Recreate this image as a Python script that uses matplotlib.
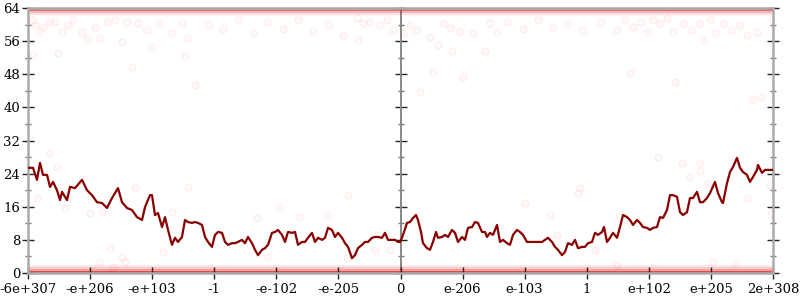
import numpy as np
import matplotlib
matplotlib.use('Agg')
import matplotlib.pyplot as plt

# smoothed line: sample index -> value
line_x = [0, 2, 5, 9, 12, 15, 19, 22, 25, 29, 32, 34, 39, 42, 47, 54, 59, 64, 69, 74,
          79, 84, 90, 94, 99, 104, 109, 114, 117, 122, 124, 127, 130, 134, 137, 140, 144, 147, 150, 154,
          157, 160, 164, 167, 170, 174, 177, 180, 184, 187, 190, 194, 197, 200, 204, 207, 210, 214, 217, 220,
          224, 227, 230, 234, 237, 240, 244, 247, 250, 254, 257, 260, 264, 267, 270, 274, 277, 280, 284, 287,
          290, 294, 297, 300, 304, 307, 310, 314, 317, 320, 324, 327, 330, 334, 337, 340, 344, 347, 350, 354,
          357, 360, 364, 367, 370, 372, 374, 376, 379, 382, 385, 388, 390, 393, 395, 399, 402, 405, 408, 410,
          414, 417, 420, 424, 427, 430, 434, 437, 440, 444, 447, 450, 454, 457, 459, 462, 465, 469, 472, 475,
          479, 482, 485, 489, 492, 495, 499, 502, 504, 507, 510, 514, 517, 520, 524, 527, 530, 534, 537, 540,
          544, 547, 550, 554, 557, 560, 564, 567, 570, 574, 576, 579, 582, 585, 589, 592, 595, 599, 602, 605,
          609, 612, 615, 619, 622, 625, 629, 632, 635, 639, 642, 645, 649, 652, 655, 659, 662, 665, 669, 672,
          675, 679, 682, 687, 690, 694, 695, 699, 702, 705, 709, 712, 715, 719, 722, 725, 729, 730, 734, 737,
          740, 745]
line_y = [25.4, 25.4, 25.4, 22.5, 26.6, 23.7, 23.7, 20.8, 22.0, 20.0, 17.6, 19.6, 17.6, 20.8, 20.5, 22.5, 20.0, 18.8, 17.1, 16.9,
          15.7, 18.1, 20.5, 17.1, 15.7, 15.2, 13.5, 12.8, 15.9, 18.8, 18.8, 14.0, 14.5, 11.1, 13.5, 10.4, 6.8, 8.5, 7.5, 8.7,
          12.8, 12.3, 12.1, 12.3, 12.1, 11.6, 8.7, 7.5, 6.3, 9.2, 9.9, 9.7, 7.5, 6.8, 7.2, 7.2, 7.5, 8.0, 7.2, 8.7,
          7.2, 5.6, 4.3, 5.6, 6.0, 6.8, 9.7, 9.9, 10.4, 9.2, 7.5, 9.9, 9.7, 9.9, 6.8, 7.5, 7.5, 8.5, 9.7, 7.5,
          8.5, 8.0, 8.5, 10.9, 10.4, 8.7, 9.7, 8.5, 7.2, 6.3, 3.6, 4.3, 6.0, 6.8, 7.5, 7.5, 8.5, 8.7, 8.7, 8.5,
          9.7, 8.0, 8.0, 8.0, 7.5, 7.5, 8.5, 9.9, 12.1, 12.3, 13.3, 14.0, 12.8, 9.9, 7.2, 6.0, 5.6, 7.5, 9.9, 8.5,
          8.7, 9.2, 8.7, 10.4, 9.7, 7.5, 8.7, 8.0, 10.9, 11.1, 12.3, 12.1, 9.9, 9.9, 8.7, 9.7, 9.2, 11.6, 7.5, 8.0,
          7.2, 6.8, 9.2, 10.4, 9.9, 9.2, 7.5, 7.5, 7.5, 7.5, 7.5, 7.5, 8.0, 8.5, 7.5, 6.3, 5.6, 4.3, 5.1, 7.2,
          6.8, 8.0, 6.0, 6.3, 6.3, 7.2, 7.5, 9.7, 9.2, 9.9, 11.1, 7.5, 8.5, 9.7, 8.5, 11.1, 14.0, 13.5, 12.8, 11.6,
          12.8, 12.1, 11.1, 10.9, 10.4, 10.9, 11.1, 13.5, 13.3, 15.2, 18.8, 18.8, 18.4, 14.7, 14.0, 14.7, 18.1, 18.1, 19.6, 17.1,
          17.1, 18.1, 19.3, 22.0, 19.3, 17.1, 16.9, 21.7, 24.4, 25.6, 27.8, 25.4, 24.4, 23.7, 22.0, 23.2, 24.9, 26.1, 24.2, 24.9,
          24.9, 24.9]

# faint scattered samples
pts_x = [4, 7, 12, 15, 21, 27, 34, 39, 45, 54, 59, 67, 72, 79, 87, 94, 99, 104, 110, 119,
         124, 132, 144, 154, 157, 160, 167, 30, 5, 180, 195, 210, 225, 240, 255, 270, 285, 300, 315,
         329, 335, 342, 352, 359, 365, 375, 382, 389, 402, 410, 415, 422, 424, 432, 435, 445, 457, 462, 469,
         405, 392, 330, 480, 495, 510, 525, 540, 555,
         572, 589, 597, 605, 612, 619, 625, 632, 639, 645, 655, 664, 672, 675, 682, 687, 695, 704, 712, 719,
         729, 744, 602, 647, 725, 734,
         22, 29, 9, 37, 62, 74, 107, 82, 94, 160, 144, 229, 135, 240, 320, 252, 300, 272, 347, 319, 362,
         552, 550, 522, 529, 497, 567, 630, 654, 672, 672, 662, 680, 720, 742,
         72, 97, 85, 684, 707, 744, 589]
pts_y = [61.1, 59.9, 58.3, 59.5, 60.7, 60.7, 58.3, 59.9, 61.1, 58.3, 56.4, 59.5, 56.7, 60.7, 61.1, 55.9, 60.7, 49.8, 60.3, 58.7,
         54.7, 60.3, 57.9, 60.3, 52.3, 56.7, 45.4, 53.1, 52.7, 60.0, 59.0, 61.0, 58.0, 60.5, 59.0, 61.0, 58.5, 60.0, 57.5,
         61.6, 60.4, 60.7, 59.9, 61.1, 58.7, 57.9, 59.9, 58.7, 57.0, 55.1, 60.3, 59.1, 53.5, 58.3, 47.4, 57.9, 53.5, 60.3, 58.3,
         48.6, 43.7, 56.3, 60.5, 58.9, 61.0, 59.4, 60.2, 58.6,
         60.7, 58.7, 61.1, 59.5, 60.7, 58.3, 61.1, 60.3, 61.6, 58.3, 60.3, 58.7, 60.3, 56.3, 61.1, 57.9, 60.3, 58.7, 59.9, 57.5,
         58.3, 61.1, 48.2, 46.2, 42.1, 42.5,
         29.0, 25.6, 18.1, 15.7, 14.5, 14.7, 20.8, 6.0, 3.9, 20.8, 14.7, 13.3, 5.1, 3.9, 18.8, 15.9, 14.0, 13.5, 5.6, 3.6, 5.6,
         20.5, 19.3, 14.0, 9.2, 16.9, 5.6, 28.0, 26.6, 26.6, 24.6, 23.2, 21.7, 18.1, 21.3,
         2.7, 2.7, 1.5, 2.7, 2.4, 14.5, 2.0]

# dense bands of samples along the limits
band_y = [0.25, 0.7, 1.2, 1.6, 63.8, 63.3, 62.9]
band_a = [0.7, 0.3, 0.16, 0.08, 0.55, 0.22, 0.1]

xlabels = ['-6e+307', '-e+206', '-e+103', '-1', '-e-102', '-e-205', '0',
           'e-206', 'e-103', '1', 'e+102', 'e+205', '2e+308']
xmax = 745

plt.rcParams['font.family'] = 'DejaVu Serif'
fig = plt.figure(figsize=(8, 3), dpi=100)
ax = fig.add_axes([28/800, 27/300, 745/800, 265/300])

for yb, a in zip(band_y, band_a):
    ax.axhline(yb, color='#e41a1a', alpha=a, lw=2.4, zorder=1)
ax.plot(pts_x, pts_y, 'o', ms=5, mfc=(1, 0, 0, 0.02), mec=(1, 0, 0, 0.07), mew=0.8, zorder=2)
ax.plot(line_x, line_y, color='#8b0000', lw=1.6, zorder=4)

ax.set_xlim(0, xmax)
ax.set_ylim(0, 64)
xt = np.linspace(0, xmax, len(xlabels))
ax.set_xticks(xt)
ax.set_xticklabels(xlabels)
ax.set_yticks(np.arange(0, 65, 8))
ax.set_yticks(np.arange(4, 64, 8), minor=True)
ax.tick_params(axis='both', which='major', direction='inout', length=9, width=1, color='#222222',
               labelsize=9.5, pad=1)
ax.tick_params(axis='y', which='minor', direction='inout', length=5, width=1, color='#777777')
ax.tick_params(axis='y', right=True, which='both')
ax.tick_params(axis='x', pad=3)
for s in ax.spines.values():
    s.set_color('#aaaaaa')
    s.set_linewidth(1.8)

# middle axis
mid = ax.secondary_yaxis(0.5)
mid.set_yticks(np.arange(0, 65, 8))
mid.set_yticks(np.arange(4, 64, 8), minor=True)
mid.set_yticklabels([])
mid.tick_params(which='major', direction='inout', length=9, width=1, color='#222222')
mid.tick_params(which='minor', direction='inout', length=5, width=1, color='#777777')
mid.spines['right'].set_color('#888888')
mid.spines['right'].set_linewidth(1.4)
mid.spines['left'].set_color('#888888')
mid.spines['left'].set_linewidth(1.4)

fig.savefig('out.png', dpi=100)
